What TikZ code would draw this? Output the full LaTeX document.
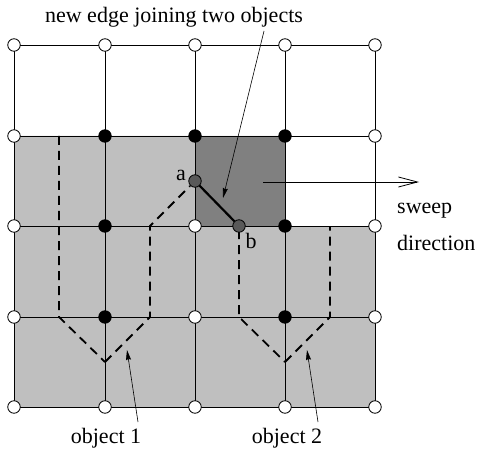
\documentclass[tikz,border=0pt]{standalone}
\usepackage{fontspec}
\setmainfont{Liberation Serif}
\usetikzlibrary{arrows.meta}
\begin{document}
\begin{tikzpicture}[x=1pt,y=-1pt,
  gridline/.style={draw=black,line width=0.9pt},
  vw/.style={circle,draw=black,line width=0.8pt,fill=white,minimum size=12.5pt,inner sep=0pt},
  vb/.style={circle,draw=black,line width=0.8pt,fill=black,minimum size=12.5pt,inner sep=0pt},
  vg/.style={circle,draw=black,line width=0.8pt,fill=black!65,minimum size=12.5pt,inner sep=0pt},
  objdash/.style={draw=black,line width=1.8pt,dash pattern=on 9pt off 6pt},
  lab/.style={font=\fontsize{22}{26}\selectfont,inner sep=0pt},
  pointer/.style={draw=black,line width=0.6pt,-{Stealth[length=10pt,width=5pt,inset=1pt]}}]
\useasboundingbox (0,0) rectangle (479,457);
% fills
\fill[black!25] (14,136) -- (285,136) -- (285,226) -- (375,226) -- (375,407) -- (14,407) -- cycle;
\fill[black!50] (195,136) rectangle (285,226);
% grid lines
\foreach \x in {14,105,195,285,375} {\draw[gridline] (\x,45) -- (\x,407);}
\foreach \y in {45,136,226,317,407} {\draw[gridline] (14,\y) -- (375,\y);}
% dashed object boundaries
\coordinate (d1) at (59,136);
\coordinate (d2) at (59,317);
\coordinate (d3) at (105,362);
\coordinate (d4) at (150,317);
\coordinate (d5) at (150,226);
\coordinate (e2) at (239,317);
\coordinate (e3) at (285,362);
\coordinate (e4) at (330,317);
\coordinate (e5) at (330,226);
\draw[objdash] (d1) -- (d2) -- (d3);
\draw[objdash] (d3) -- (d4) -- (d5) -- (190,186);
\draw[objdash] (239,230) -- (e2) -- (e3);
\draw[objdash] (e3) -- (e4) -- (e5);
% vertices
\foreach \x [count=\i] in {14,105,195,285,375} {\node[vw] (v1\i) at (\x,45) {};}
\node[vw] (v21) at (14,136) {};
\node[vb] (v22) at (105,136) {};
\node[vb] (v23) at (195,136) {};
\node[vb] (v24) at (285,136) {};
\node[vw] (v25) at (375,136) {};
\node[vw] (v31) at (14,226) {};
\node[vb] (v32) at (105,226) {};
\node[vw] (v33) at (195,226) {};
\node[vb] (v34) at (285,226) {};
\node[vw] (v35) at (375,226) {};
\node[vw] (v41) at (14,317) {};
\node[vb] (v42) at (105,317) {};
\node[vw] (v43) at (195,317) {};
\node[vb] (v44) at (285,317) {};
\node[vw] (v45) at (375,317) {};
\foreach \x [count=\i] in {14,105,195,285,375} {\node[vw] (v5\i) at (\x,407) {};}
% new edge
\node[vg] (a) at (195,181) {};
\node[vg] (b) at (239,226) {};
\draw[black,line width=2.2pt] (a) -- (b);
\node[lab] at (181,175) {a};
\node[lab] at (251,241) {b};
% labels
\node[lab] (t1) at (174,17) {new edge joining two objects};
\coordinate (t1a) at (264,31);
\coordinate (t1b) at (223,198);
\draw[pointer] (t1a) -- (t1b);
\coordinate (sw1) at (263,182);
\coordinate (sw2) at (419,182);
\draw[draw=black,line width=0.8pt,-{Straight Barb[length=19pt,width=10pt]}] (sw1) -- (sw2);
\node[lab,anchor=west] (sw) at (397,211) {sweep};
\node[lab,anchor=west] (dir) at (397,243) {direction};
\node[lab] (o1) at (106,438) {object 1};
\node[lab] (o2) at (287,438) {object 2};
\coordinate (o1a) at (138,422);
\coordinate (o1b) at (127,350);
\coordinate (o2a) at (318,422);
\coordinate (o2b) at (307,350);
\draw[pointer] (o1a) -- (o1b);
\draw[pointer] (o2a) -- (o2b);
\end{tikzpicture}
\end{document}
